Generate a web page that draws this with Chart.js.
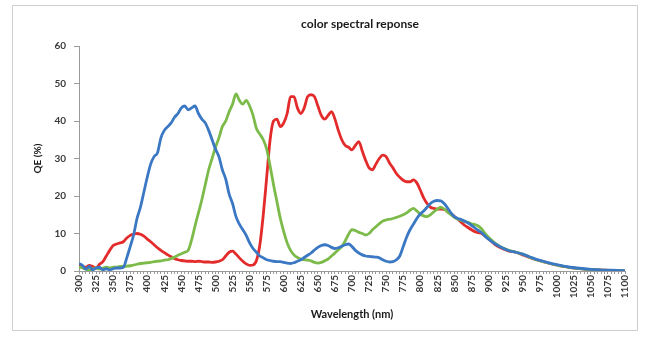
<!DOCTYPE html>
<html><head><meta charset="utf-8">
<script src="https://cdn.jsdelivr.net/npm/chart.js@4"></script>
<style>
html,body{margin:0;padding:0;background:#fff;}
#wrap{position:relative;width:645px;height:338px;}
#frame{position:absolute;left:12px;top:5px;width:626px;height:326px;border:1px solid #cfcfcf;box-sizing:border-box;pointer-events:none;}
canvas{position:absolute;left:0;top:0;}
</style></head><body>
<div id="wrap"><canvas id="c" width="645" height="338"></canvas><div id="frame"></div></div>
<script>
const chartTitle = 'color spectral reponse';
const yTitle = 'QE (%)';
const xTitle = 'Wavelength (nm)';

const wavelengths = [300,305,310,315,320,325,330,335,340,345,350,355,360,365,370,375,380,385,390,395,
400,405,410,415,420,425,430,435,440,445,450,455,460,465,470,475,480,485,490,495,
500,505,510,515,520,525,530,535,540,545,550,555,560,565,570,575,580,585,590,595,
600,605,610,615,620,625,630,635,640,645,650,655,660,665,670,675,680,685,690,695,
700,705,710,715,720,725,730,735,740,745,750,755,760,765,770,775,780,785,790,795,
800,805,810,815,820,825,830,835,840,845,850,855,860,865,870,875,880,885,890,895,
900,910,920,930,940,950,960,970,980,990,1000,1010,1020,1030,1040,1050,1060,1070,1080,1090,1100];

const blueQE = [2.0,1.5,0.5,1.2,0.3,0.8,1.0,0.3,0.6,0.3,0.6,0.8,0.8,1.0,3.5,6.5,9.6,14,17,21,
25,28.5,30.5,31.5,35.5,37.5,38.5,39.5,41,42,43.5,44,43,43.5,44,42,40.5,39.5,37.5,35,
32.5,30.5,27,24.5,20.5,18,14.5,12.5,11,9.5,7.5,6,5,4,3.5,3,2.8,2.6,2.5,2.5,
2.3,2.1,2.0,2.2,2.6,3.0,3.6,4.2,4.8,5.6,6.3,6.8,7.0,6.8,6.3,6.0,6.2,6.6,7.0,7.2,
6.5,5.5,4.8,4.3,4.0,3.9,3.8,3.7,3.5,3.0,2.6,2.4,2.5,3.0,4.0,6.5,9.0,11.0,12.5,14.0,
15.2,16.0,17.0,18.0,18.6,18.8,18.7,18.0,16.8,15.5,14.5,14.0,13.7,13.3,12.8,12.2,11.5,10.8,10.2,9.3,
8.5,7.2,6.2,5.4,5.0,4.5,3.8,3.1,2.6,2.1,1.7,1.3,1.0,0.8,0.6,0.45,0.35,0.25,0.2,0.15,0.1];

const greenQE = [1.0,0.8,0.5,0.3,0.6,0.8,0.5,0.8,1.0,0.8,1.0,1.0,1.2,1.2,1.3,1.4,1.6,1.8,2.0,2.1,
2.2,2.3,2.5,2.6,2.7,2.9,3.0,3.3,3.7,4.2,4.6,5.0,5.5,8.3,12,15.5,19,23,27,30,
33,35.5,38.5,40,42.5,44.5,47.2,45.5,44.5,45.5,44,41.5,38,36.5,35,32.5,28,23,18.5,14,
10.5,7.5,5.5,4.3,3.6,3.2,3.0,2.9,2.7,2.3,2.1,2.3,2.7,3.2,4.0,4.8,5.7,6.5,8.0,9.8,
11.0,10.8,10.3,10.0,9.6,10.0,11.0,11.8,12.6,13.3,13.6,13.8,14.0,14.3,14.6,15.0,15.5,16.2,16.7,16.0,
15.2,14.7,14.5,15.0,15.8,16.5,17.0,16.5,15.7,15.0,14.3,13.8,13.5,13.2,13.0,12.6,12.4,12.0,11.2,10.0,
9.0,7.4,6.2,5.5,5.0,4.5,3.7,3.0,2.5,2.0,1.6,1.2,0.9,0.7,0.5,0.4,0.3,0.2,0.15,0.1,0.1];

const redQE = [1.8,1.2,1.0,1.5,1.2,0.8,1.8,2.5,4.0,5.5,6.8,7.2,7.5,7.8,8.8,9.5,9.8,10.0,9.8,9.3,
8.5,7.8,7.0,6.2,5.5,4.9,4.3,3.8,3.3,3.0,2.8,2.7,2.6,2.6,2.5,2.6,2.5,2.4,2.4,2.3,
2.4,2.6,3.0,4.0,5.0,5.3,4.5,3.5,2.6,1.9,1.5,1.6,2.8,7.0,15,25,35,40,40.5,38.5,
39.5,42,46.5,46.5,43.5,42,43.5,46.5,47,46.5,44,41.5,40.5,41.5,42.5,40.5,37.5,35,33.5,33,
32.3,33.5,34.5,32,29.5,27.5,27,28.5,30,30.9,30.5,28.8,27.5,26,25,24.2,23.8,23.8,24.3,23.5,
21.6,19.5,18,17,16.7,16.5,16.5,16.4,16.0,15.3,14.5,13.8,13.0,12.2,11.6,11.0,10.5,10.2,10.0,9.3,
8.6,7.0,6.0,5.3,5.0,4.3,3.6,3.0,2.5,2.0,1.6,1.2,0.9,0.7,0.5,0.4,0.3,0.2,0.15,0.1,0.05];

const xTickLabels = [300,325,350,375,400,425,450,475,500,525,550,575,600,625,650,675,700,725,750,775,800,825,850,875,900,925,950,975,1000,1025,1050,1075,1100];
const yTickLabels = [0,10,20,30,40,50,60];

const FONT = 'Lato, "Liberation Sans", sans-serif';
const toPoints = arr => wavelengths.map((w, i) => ({x: w, y: arr[i]}));

const titlePlugin = {
  id: 'customTitle',
  afterDraw(chart) {
    const ctx = chart.ctx;
    ctx.save();
    ctx.font = 'bold 12px ' + FONT;
    ctx.fillStyle = '#1a1a1a';
    ctx.textAlign = 'center';
    ctx.textBaseline = 'middle';
    ctx.fillText(chartTitle, 360, 24);
    ctx.restore();
  }
};

const lineDs = (label, arr, color) => ({
  label, data: toPoints(arr), borderColor: color, backgroundColor: color,
  borderWidth: 2.8, pointRadius: 0, cubicInterpolationMode: 'monotone', fill: false
});

new Chart(document.getElementById('c'), {
  type: 'line',
  data: {
    datasets: [
      lineDs('Blue', blueQE, '#3b78c4'),
      lineDs('Green', greenQE, '#7cba4a'),
      lineDs('Red', redQE, '#e42b2b')
    ]
  },
  options: {
    responsive: false,
    animation: false,
    devicePixelRatio: 1,
    layout: {padding: {left: 0, right: 20, top: 46, bottom: 12}},
    plugins: {legend: {display: false}, tooltip: {enabled: false}, title: {display: false}},
    scales: {
      x: {
        type: 'linear', min: 300, max: 1100,
        grid: {display: true, drawOnChartArea: false, drawTicks: true, tickLength: 3, color: '#9a9a9a'},
        border: {display: true, color: '#9a9a9a'},
        ticks: {
          stepSize: 5, autoSkip: false, minRotation: 90, maxRotation: 90, padding: 1,
          font: {family: FONT, size: 10, weight: 'bold'}, color: '#3a3a3a',
          callback: v => xTickLabels.includes(v) ? String(v) : ''
        },
        title: {display: true, text: xTitle, font: {family: FONT, size: 11, weight: 'bold'}, color: '#1a1a1a', padding: {top: 0, bottom: 5}},
        afterFit: s => { s.height = 55; }
      },
      y: {
        min: 0, max: 60,
        grid: {display: true, drawOnChartArea: false, drawTicks: true, tickLength: 5, color: '#9a9a9a'},
        border: {display: true, color: '#9a9a9a'},
        ticks: {
          stepSize: 10, padding: 8,
          font: {family: FONT, size: 10, weight: 'bold'}, color: '#3a3a3a',
          callback: v => yTickLabels.includes(v) ? String(v) : ''
        },
        title: {display: true, text: yTitle, font: {family: FONT, size: 10, weight: 'bold'}, color: '#1a1a1a', padding: {top: 32, bottom: 0}},
        afterFit: s => { s.width = 79; }
      }
    }
  },
  plugins: [titlePlugin]
});
</script>
</body></html>
